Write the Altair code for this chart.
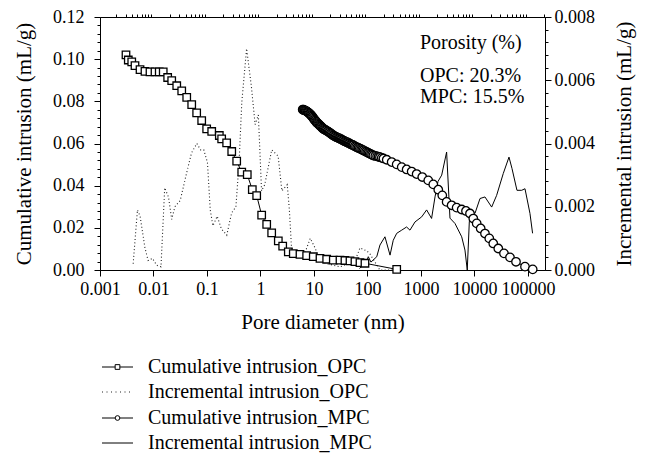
import altair as alt
import pandas as pd

# ---------------- data ----------------
opc_cum_d = [0.00306, 0.00338, 0.00392, 0.00451, 0.0056, 0.00693, 0.0086, 0.01067, 0.0128, 0.0152,
             0.0184, 0.0219, 0.0272, 0.0337, 0.0418, 0.0518, 0.0641, 0.0796, 0.0986, 0.1225,
             0.170, 0.188, 0.233, 0.290, 0.359, 0.446, 0.566, 0.703, 0.849, 1.052,
             1.306, 1.618, 2.153, 2.600, 3.311, 4.102, 5.47, 7.29, 9.70, 12.94,
             17.26, 22.96, 30.6, 37.9, 47.1, 58.3, 72.4, 89.7, 351.6]
opc_cum_v = [0.1020, 0.0996, 0.0987, 0.0969, 0.0950, 0.0942, 0.0940, 0.0940, 0.0940, 0.0940,
             0.0913, 0.0898, 0.0874, 0.0850, 0.0819, 0.0784, 0.0745, 0.0709, 0.0669, 0.0657,
             0.0638, 0.0622, 0.0603, 0.0562, 0.0516, 0.0464, 0.0452, 0.0381, 0.0353, 0.0260,
             0.0216, 0.0176, 0.0138, 0.0113, 0.0086, 0.0078, 0.0074, 0.0068, 0.0063, 0.0055,
             0.0051, 0.0047, 0.0047, 0.0045, 0.0043, 0.0040, 0.0035, 0.0032, 0.0003]

opc_inc_d = [0.00417, 0.00501, 0.00562, 0.00692, 0.00794, 0.00955, 0.01148, 0.0138, 0.0162, 0.0191,
             0.0219, 0.0251, 0.0316, 0.0407, 0.0513, 0.0646, 0.0759, 0.0871, 0.102, 0.115,
             0.129, 0.155, 0.186, 0.234, 0.288, 0.347, 0.398, 0.447, 0.550, 0.676,
             0.794, 0.912, 1.047, 1.202, 1.622, 2.138, 2.512, 3.162, 3.467, 3.802,
             4.786, 6.31, 8.51, 10.47, 12.88, 17.38, 30.9, 58.9, 72.4, 97.7,
             112, 170, 398]
opc_inc_v = [0.0002, 0.0019, 0.0017, 0.0007, 0.0003, 0.00037, 0.00015, 0.0001, 0.0026, 0.0023,
             0.0016, 0.0020, 0.0022, 0.0030, 0.0037, 0.0040, 0.0038, 0.0038, 0.0034, 0.0019,
             0.0014, 0.0017, 0.0013, 0.0011, 0.0018, 0.0020, 0.0034, 0.0053, 0.0070, 0.0058,
             0.0046, 0.0049, 0.0025, 0.0027, 0.0038, 0.0036, 0.0025, 0.0027, 0.0019, 0.0007,
             0.0005, 0.0004, 0.0010, 0.0007, 0.0003, 0.0002, 0.0001, 0.0003, 0.0007, 0.0006,
             0.0005, 0.0, 0.0]

mpc_cum_d = [6.15, 6.32, 6.5, 6.71, 6.93, 7.16, 7.4, 7.64, 7.89, 8.15,
             8.41, 8.69, 8.97, 9.27, 9.57, 9.88, 10.2, 10.55, 10.9, 11.25,
             11.6, 12.0, 12.4, 12.8, 13.2, 13.65, 14.1, 14.6, 15.1, 15.7,
             16.4, 17.1, 17.9, 18.7, 19.5, 20.3, 21.2, 22.1, 23.1, 24.1,
             25.2, 26.3, 27.5, 28.7, 30.0, 31.3, 32.7, 34.1, 35.6, 37.2,
             38.8, 40.5, 42.3, 44.2, 46.1, 48.1, 50.2, 52.4, 54.7, 57.8,
             61, 64.4, 68, 72, 76, 80, 84, 89, 94, 99,
             104, 110, 116, 122, 129, 140, 151, 161, 171, 185,
             199, 229, 283, 351, 436, 539, 669, 829, 1057, 1368,
             1698, 2105, 2500, 3016, 3736, 4640, 5764, 6935, 8240, 9500,
             11000, 13060, 15710, 18920, 22450, 27850, 35580, 46100, 59700, 87900,
             122500]
mpc_cum_v = [0.0761, 0.0760, 0.0758, 0.0757, 0.0756, 0.0754, 0.0751, 0.0749, 0.0746, 0.0743,
             0.0740, 0.0736, 0.0732, 0.0728, 0.0723, 0.0718, 0.0713, 0.0709, 0.0704, 0.0700,
             0.0697, 0.0693, 0.0690, 0.0686, 0.0683, 0.0680, 0.0676, 0.0672, 0.0669, 0.0666,
             0.0664, 0.0661, 0.0658, 0.0655, 0.0652, 0.0648, 0.0645, 0.0641, 0.0638, 0.0635,
             0.0633, 0.0630, 0.0628, 0.0626, 0.0624, 0.0621, 0.0619, 0.0616, 0.0614, 0.0611,
             0.0609, 0.0607, 0.0605, 0.0602, 0.0600, 0.0597, 0.0595, 0.0593, 0.0591, 0.0587,
             0.0584, 0.0581, 0.0579, 0.0576, 0.0573, 0.0570, 0.0567, 0.0564, 0.0561, 0.0558,
             0.0555, 0.0552, 0.0549, 0.0546, 0.0543, 0.0541, 0.0539, 0.0537, 0.0535, 0.0532,
             0.0529, 0.0523, 0.0512, 0.0501, 0.0488, 0.0477, 0.0467, 0.0455, 0.0441, 0.0425,
             0.0406, 0.0381, 0.0354, 0.0323, 0.0307, 0.0296, 0.0287, 0.0280, 0.0268, 0.0244,
             0.0221, 0.0197, 0.0173, 0.0150, 0.0126, 0.0102, 0.0079, 0.0060, 0.0039, 0.0016,
             0.0003]

mpc_inc_d = [70.8, 93.8, 103.5, 116, 149, 171, 212, 264, 303, 352,
             436, 538, 622, 773, 1030, 1274, 1578, 1828, 2080, 2438,
             3013, 3483, 4325, 5768, 6637, 7328, 8000, 8831, 10210, 12680,
             15700, 20940, 25940, 34510, 44160, 50230, 62230, 76210, 87900, 108900,
             121900]
mpc_inc_v = [0.00005, 0.00022, 0.00042, 0.00025, 0.00042, 0.00079, 0.00105, 0.00047, 0.00094, 0.00116,
             0.00126, 0.00136, 0.00126, 0.00152, 0.00168, 0.0019, 0.00163, 0.00231, 0.0028, 0.0030,
             0.00373, 0.00164, 0.00147, 0.00105, 0.00063, 0.0, 0.00152, 0.00189, 0.00179, 0.00226,
             0.00231, 0.00199, 0.00236, 0.00305, 0.00357, 0.00321, 0.00252, 0.00252, 0.00257, 0.00179,
             0.00116]

x_tick_values = [0.001, 0.01, 0.1, 1, 10, 100, 1000, 10000, 100000]
left_tick_values = [0.0, 0.02, 0.04, 0.06, 0.08, 0.10, 0.12]
right_tick_values = [0.0, 0.002, 0.004, 0.006, 0.008]

annotation_lines = ["Porosity (%)", "OPC: 20.3%", "MPC: 15.5%"]
legend_labels = ["Cumulative intrusion_OPC", "Incremental intrusion_OPC",
                 "Cumulative intrusion_MPC", "Incremental intrusion_MPC"]

x_title = "Pore diameter (nm)"
y_left_title = "Cumulative intrusion (mL/g)"
y_right_title = "Incremental intrusion (mL/g)"

# ---------------- styling ----------------
FONT = "Liberation Serif"
W, H = 445, 253
X_MAX = 208000

x_minor = [m * 10.0 ** k for k in range(-3, 6) for m in range(2, 10) if m * 10.0 ** k < X_MAX]
left_minor = [round(i * 0.004, 4) for i in range(1, 30) if i % 5 != 0]
right_minor = [round(i * 0.0004, 5) for i in range(1, 20) if i % 5 != 0]

xscale = alt.Scale(type="log", domain=[0.001, X_MAX])
yl_scale = alt.Scale(domain=[0, 0.12])
yr_scale = alt.Scale(domain=[0, 0.008])

common = dict(grid=False, labelFont=FONT, titleFont=FONT, labelColor="black", titleColor="black",
              tickColor="black", domainColor="black", titleFontWeight="normal")

ax_x = alt.Axis(values=x_tick_values, labelExpr="'' + datum.value", title=x_title,
                tickSize=6, labelPadding=4, titlePadding=13, labelFontSize=18, titleFontSize=21,
                labelFlush=False, labelOverlap=False, **common)
ax_x_minor = alt.Axis(values=x_minor, labels=False, tickSize=3, domain=False, title="",
                      grid=False, tickColor="black")
ax_yl = alt.Axis(values=left_tick_values, format=".2f", title=y_left_title, orient="left",
                 tickSize=6, labelPadding=10, titlePadding=18, labelFontSize=18, titleFontSize=21,
                 labelOverlap=False, **common)
ax_yl_minor = alt.Axis(values=left_minor, labels=False, tickSize=3, domain=False, title="",
                       orient="left", grid=False, tickColor="black")
ax_yr = alt.Axis(values=right_tick_values, format=".3f", title=y_right_title, orient="right",
                 tickSize=6, labelPadding=3, titlePadding=40, titleAngle=270,
                 labelFontSize=18, titleFontSize=21, labelOverlap=False, **common)
ax_yr_minor = alt.Axis(values=right_minor, labels=False, tickSize=3, domain=False, title="",
                       orient="right", grid=False, tickColor="black")

df_opc_cum = pd.DataFrame({"d": opc_cum_d, "v": opc_cum_v})
df_opc_inc = pd.DataFrame({"d": opc_inc_d, "v": opc_inc_v})
df_mpc_cum = pd.DataFrame({"d": mpc_cum_d, "v": mpc_cum_v})
df_mpc_inc = pd.DataFrame({"d": mpc_inc_d, "v": mpc_inc_v})

DOT = [1, 2.4]

opc_inc_line = alt.Chart(df_opc_inc).mark_line(color="#222222", strokeWidth=1.1, strokeDash=DOT).encode(
    x=alt.X("d:Q", scale=xscale, axis=None),
    y=alt.Y("v:Q", scale=yr_scale, axis=ax_yr))
mpc_inc_line = alt.Chart(df_mpc_inc).mark_line(color="black", strokeWidth=1).encode(
    x=alt.X("d:Q", scale=xscale, axis=None),
    y=alt.Y("v:Q", scale=yr_scale, axis=ax_yr_minor))
opc_cum_line = alt.Chart(df_opc_cum).mark_line(color="black", strokeWidth=1).encode(
    x=alt.X("d:Q", scale=xscale, axis=ax_x),
    y=alt.Y("v:Q", scale=yl_scale, axis=ax_yl))
mpc_cum_line = alt.Chart(df_mpc_cum).mark_line(color="black", strokeWidth=1).encode(
    x=alt.X("d:Q", scale=xscale, axis=None),
    y=alt.Y("v:Q", scale=yl_scale, axis=None))
opc_cum_pts = alt.Chart(df_opc_cum).mark_point(shape="square", size=56, filled=True, fill="white",
                                                stroke="black", strokeWidth=1.3, opacity=1).encode(
    x=alt.X("d:Q", scale=xscale, axis=ax_x_minor),
    y=alt.Y("v:Q", scale=yl_scale, axis=ax_yl_minor))
mpc_cum_pts = alt.Chart(df_mpc_cum).mark_point(shape="circle", size=72, filled=True, fill="white",
                                                stroke="black", strokeWidth=1.3, opacity=1).encode(
    x=alt.X("d:Q", scale=xscale, axis=None),
    y=alt.Y("v:Q", scale=yl_scale, axis=None))

layers = [opc_inc_line, mpc_inc_line, opc_cum_line, mpc_cum_line, opc_cum_pts, mpc_cum_pts]

# annotation block (top right)
ann_y = [26, 59, 80]
for txt, yy in zip(annotation_lines, ann_y):
    layers.append(
        alt.Chart(pd.DataFrame({"label": [txt]})).mark_text(
            font=FONT, fontSize=20, align="left", baseline="middle", color="black"
        ).encode(text="label:N", x=alt.value(320), y=alt.value(yy)))

# legend (below the plot)
leg_y = [350, 375, 401, 426]
leg_marker = ["square", None, "circle", None]
leg_dash = [None, [1, 3.5], None, None]
for lab, yy, mk, dash in zip(legend_labels, leg_y, leg_marker, leg_dash):
    one = pd.DataFrame({"label": [lab]})
    rule_kw = dict(color="black", strokeWidth=1)
    if dash is not None:
        rule_kw["strokeDash"] = dash
        rule_kw["color"] = "#222222"
    layers.append(alt.Chart(one).mark_rule(**rule_kw).encode(
        x=alt.value(2), x2=alt.value(33), y=alt.value(yy)))
    if mk is not None:
        layers.append(alt.Chart(one).mark_point(shape=mk, size=22, filled=True, fill="white",
                                                stroke="black", strokeWidth=1, opacity=1).encode(
            x=alt.value(17.5), y=alt.value(yy)))
    layers.append(alt.Chart(one).mark_text(font=FONT, fontSize=20, align="left", baseline="middle",
                                           color="black").encode(
        text="label:N", x=alt.value(48), y=alt.value(yy)))

chart = alt.layer(*layers).resolve_scale(y="independent").resolve_axis(
    x="independent", y="independent"
).properties(
    width=W, height=H,
    padding={"left": 92, "top": 9, "right": 92, "bottom": 186},
    autosize=alt.AutoSizeParams(type="none"),
).configure_view(stroke="black", strokeWidth=1)

chart.save("out.html", embed_options={"renderer": "svg", "actions": False})
